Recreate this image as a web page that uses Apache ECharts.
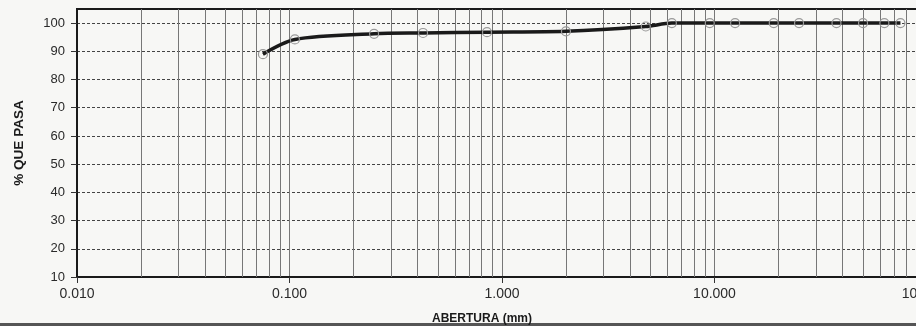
<!DOCTYPE html>
<html><head><meta charset="utf-8">
<script src="https://cdn.jsdelivr.net/npm/echarts@6/dist/echarts.min.js"></script>
<style>html,body{margin:0;padding:0;background:#f7f7f5}#c{width:916px;height:326px}</style>
</head><body><div id="c"></div>
<script>
// Data
const aberturas = [0.075, 0.106, 0.25, 0.425, 0.85, 2.00, 4.75, 6.3, 9.5, 12.5, 19.0, 25.0, 37.5, 50.0, 63.0, 75.0];
const porcentajePasa = [89.0, 94.2, 96.2, 96.5, 96.8, 97.1, 98.8, 100, 100, 100, 100, 100, 100, 100, 100, 100];
const yTicks = [10, 20, 30, 40, 50, 60, 70, 80, 90, 100];
const decadas = [0.01, 0.1, 1, 10];
const multiplicadores = [2, 3, 4, 5, 6, 7, 8, 9];

const minorLines = [];
decadas.forEach(d => multiplicadores.forEach(m => minorLines.push({ xAxis: +(d * m).toPrecision(3) })));

const chart = echarts.init(document.getElementById('c'), null, { renderer: 'canvas' });
const font = '"Liberation Sans", Arial, sans-serif';
chart.setOption({
  backgroundColor: '#f7f7f5',
  animation: false,
  grid: { left: 77, top: 9, width: 850, height: 268, outerBoundsMode: 'none', containLabel: false, show: true, borderColor: '#1a1a1a', borderWidth: 2, backgroundColor: 'transparent' },
  xAxis: {
    type: 'log', logBase: 10, min: 0.01, max: 100,
    name: 'ABERTURA (mm)', nameLocation: 'middle', nameGap: 36,
    nameTextStyle: { fontFamily: font, fontWeight: 'bold', fontSize: 12, color: '#1a1a1a', padding: [0, 40, 0, 0] },
    axisLine: { show: true, lineStyle: { color: '#1a1a1a', width: 2 } },
    axisTick: { show: true, inside: false, length: 6, lineStyle: { color: '#333', width: 1 } },
    axisLabel: { fontFamily: font, fontSize: 14, color: '#2a2a2a', margin: 10, formatter: v => v.toFixed(3) },
    splitLine: { show: true, lineStyle: { color: '#777', width: 1, type: 'solid' } },
    minorTick: { show: false }, minorSplitLine: { show: false }
  },
  yAxis: {
    type: 'value', min: 10, max: 105, interval: 10,
    name: '% QUE PASA', nameLocation: 'middle', nameGap: 46,
    nameTextStyle: { fontFamily: font, fontWeight: 'bold', fontSize: 13.5, color: '#1a1a1a', padding: [0, 0, 5, 0] },
    axisLine: { show: true, lineStyle: { color: '#1a1a1a', width: 2 } },
    axisTick: { show: true, length: 6, lineStyle: { color: '#333' }, customValues: yTicks },
    axisLabel: { fontFamily: font, fontSize: 13, color: '#2a2a2a', margin: 12, customValues: yTicks },
    splitLine: { show: true, lineStyle: { color: '#444', width: 1, type: [3, 2] } }
  },
  series: [
    {
      type: 'line', data: [], z: 1, silent: true,
      markLine: {
        silent: true, symbol: 'none', label: { show: false },
        lineStyle: { color: '#777', width: 1, type: 'solid' },
        data: minorLines
      }
    },
    {
      type: 'line', z: 5,
      data: aberturas.map((x, i) => [x, porcentajePasa[i]]),
      smooth: 0.3,
      lineStyle: { color: '#1a1a1a', width: 3.5 },
      symbol: 'circle', symbolSize: 9,
      itemStyle: { color: 'rgba(255,255,255,0)', borderColor: '#999', borderWidth: 1.2 }
    }
  ],
  graphic: [
    { type: 'rect', left: 0, bottom: 0, shape: { width: 916, height: 3 }, style: { fill: '#555' } }
  ]
});
</script></body></html>
